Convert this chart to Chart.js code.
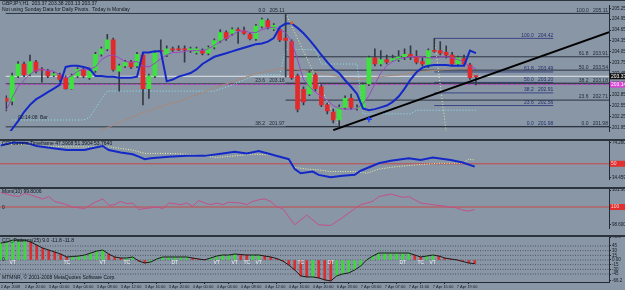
<!DOCTYPE html>
<html>
<head>
<meta charset="utf-8">
<title>GBPJPY H1</title>
<script src="https://cdn.jsdelivr.net/npm/chart.js@4.4.1/dist/chart.umd.min.js"></script>
<style>
  body { margin: 0; width: 625px; height: 290px; overflow: hidden; background: #8896a6; position: relative; }
  canvas { position: absolute; left: 0; }
  .sep { position: absolute; left: 0; width: 625px; background: #2b333d; }
</style>
</head>
<body>
<canvas id="pane1" width="625" height="139" style="top:0px"></canvas>
<canvas id="pane2" width="625" height="46" style="top:141px"></canvas>
<canvas id="pane3" width="625" height="47" style="top:189px"></canvas>
<canvas id="pane4" width="625" height="53" style="top:237px"></canvas>
<div class="sep" style="top:0px;height:1px"></div>
<div class="sep" style="top:139px;height:2px"></div>
<div class="sep" style="top:187px;height:2px"></div>
<div class="sep" style="top:235px;height:2px"></div>

<script>
// ---- time axis ----
var xLabelIdx = [0, 4, 8, 12, 16, 20, 24, 28, 32, 36, 40, 44, 48, 52, 56, 60, 64, 68, 72, 76];
var xLabels = ["2 Apr 2008", "2 Apr 20:00", "3 Apr 00:00", "3 Apr 04:00", "3 Apr 08:00", "3 Apr 12:00",
  "3 Apr 16:00", "3 Apr 20:00", "4 Apr 00:00", "4 Apr 04:00", "4 Apr 08:00", "4 Apr 12:00",
  "4 Apr 16:00", "4 Apr 20:00", "6 Apr 23:00", "7 Apr 03:00", "7 Apr 07:00", "7 Apr 11:00",
  "7 Apr 15:00", "7 Apr 19:00"];

// ---- GBPJPY H1 candles ----
var opens = [202.76, 202.68, 203.38, 203.71, 203.43, 203.76, 203.57, 203.51, 203.40, 203.41,
  203.33, 203.03, 203.38, 203.56, 203.33, 203.53, 203.98, 204.13, 204.38, 203.51,
  203.66, 203.76, 203.66, 203.96, 203.03, 203.38, 204.09, 203.96, 204.13, 204.13,
  204.13, 204.08, 204.03, 204.08, 204.01, 204.18, 204.36, 204.58, 204.56, 204.66,
  204.63, 204.53, 204.41, 204.76, 204.91, 204.68, 204.66, 204.43, 204.33, 203.38,
  203.01, 202.88, 203.41, 203.08, 202.58, 202.38, 202.16, 202.51, 202.76, 202.47,
  202.51, 203.16, 203.88, 203.71, 203.83, 203.81, 203.83, 203.91, 203.98, 203.91,
  203.78, 203.66, 204.09, 204.08, 204.03, 203.96, 203.71, 203.86, 203.68, 203.37];
var highs = [202.83, 203.46, 203.78, 203.76, 203.96, 203.81, 203.61, 203.56, 203.48, 203.46,
  203.38, 203.43, 203.61, 203.61, 203.53, 204.03, 204.18, 204.53, 204.43, 203.71,
  203.81, 203.81, 204.03, 204.01, 203.43, 204.06, 204.38, 204.21, 204.18, 204.21,
  204.21, 204.18, 204.18, 204.13, 204.21, 204.41, 204.66, 204.63, 204.71, 204.71,
  204.73, 204.58, 204.81, 204.98, 204.96, 204.83, 204.71, 205.11, 204.38, 203.43,
  203.08, 203.51, 203.46, 203.13, 202.63, 202.46, 202.58, 202.83, 202.88, 202.58,
  203.18, 203.93, 204.13, 204.08, 203.96, 203.96, 204.08, 204.13, 204.21, 204.08,
  203.88, 204.13, 204.42, 204.33, 204.21, 204.03, 203.93, 203.96, 203.73, 203.38];
var lows = [202.41, 202.58, 203.33, 203.36, 203.38, 203.46, 203.21, 203.33, 203.36, 203.23,
  203.01, 203.01, 203.33, 203.33, 203.28, 203.48, 203.93, 204.08, 203.51, 202.96,
  203.61, 203.58, 203.61, 202.58, 202.76, 203.33, 204.03, 203.91, 204.06, 204.08,
  203.76, 204.03, 203.98, 203.96, 203.96, 204.13, 204.31, 204.36, 204.51, 204.28,
  204.53, 204.38, 204.36, 204.71, 204.68, 204.63, 204.33, 203.35, 203.28, 202.38,
  202.58, 202.83, 202.96, 202.53, 202.33, 202.08, 201.98, 202.46, 202.46, 202.43,
  202.46, 203.11, 203.66, 203.66, 203.71, 203.78, 203.78, 203.83, 203.83, 203.71,
  203.66, 203.61, 204.03, 203.96, 203.88, 203.66, 203.66, 203.66, 203.28, 203.13];
var closes = [202.68, 203.38, 203.71, 203.41, 203.78, 203.51, 203.54, 203.38, 203.44, 203.28,
  203.03, 203.38, 203.56, 203.38, 203.51, 203.98, 204.13, 204.38, 203.56, 203.66,
  203.76, 203.63, 203.98, 203.03, 203.38, 204.01, 204.06, 204.13, 204.10, 204.10,
  204.10, 204.13, 204.13, 204.01, 204.16, 204.36, 204.58, 204.41, 204.66, 204.63,
  204.56, 204.41, 204.76, 204.93, 204.73, 204.78, 204.38, 204.36, 203.33, 202.46,
  202.66, 203.46, 203.03, 202.58, 202.41, 202.16, 202.51, 202.76, 202.51, 202.50,
  203.13, 203.88, 203.71, 203.83, 203.76, 203.86, 203.91, 203.98, 203.91, 203.76,
  203.71, 204.08, 204.06, 204.01, 203.96, 203.71, 203.88, 203.71, 203.33, 203.36];

// overlays on the price pane
var blueMa = [201.68, 201.91, 202.13, 202.38, 202.58, 202.73, 202.83, 202.93, 203.03, 203.13,
  203.63, 203.66, 203.66, 203.63, 203.58, 203.38, 203.38, 203.36, 203.36, 203.33,
  203.33, 203.33, 203.36, 204.03, 204.03, 204.06, 204.06, 203.23, 203.28, 203.36,
  203.41, 203.46, 203.56, 203.71, 203.81, 203.91, 203.96, 204.01, 204.06, 204.11,
  204.16, 204.21, 204.26, 204.28, 204.33, 204.43, 204.73, 204.83, 204.83, 204.71,
  204.56, 204.38, 204.18, 203.96, 203.76, 203.58, 203.46, 203.26, 203.08, 202.88,
  202.48, 202.43, 202.46, 202.51, 202.56, 202.66, 202.81, 203.03, 203.28, 203.48,
  203.61, 203.66, 203.68, 203.68, 203.68, 203.66, 203.66, 203.66, 204.08, 204.01];
var purpleMa = [202.43, 202.78, 203.08, 203.26, 203.43, 203.53, 203.56, 203.53, 203.51, 203.41,
  203.33, 203.38, 203.51, 203.56, 203.56, 203.63, 203.83, 203.93, 203.96, 203.88,
  203.78, 203.76, 203.78, 203.66, 203.63, 203.73, 203.86, 203.96, 204.03, 204.03,
  204.06, 204.08, 204.08, 204.08, 204.13, 204.23, 204.33, 204.43, 204.51, 204.61,
  204.63, 204.58, 204.58, 204.66, 204.71, 204.73, 204.66, 204.58, 204.33, 203.83,
  203.28, 203.08, 202.93, 202.81, 202.71, 202.56, 202.48, 202.46, 202.46, 202.48,
  202.61, 202.83, 203.16, 203.46, 203.66, 203.78, 203.86, 203.88, 203.91, 203.91,
  203.91, 203.88, 203.88, 203.91, 203.91, 203.88, 203.83, 203.76, 203.63, 203.58];
var brownIdx = [14, 16, 18, 20, 22, 24, 26, 28, 30, 32, 34, 36, 38, 40, 42, 44, 46,
  48, 50, 52, 54, 56, 58, 60, 62, 64, 66, 68, 70, 72, 74, 76, 78];
var brownMa = [201.76, 201.88, 202.01, 202.16, 202.31, 202.41, 202.53, 202.63, 202.73, 202.86,
  202.98, 203.11, 203.21, 203.33, 203.43, 203.51, 203.58, 203.58, 203.53, 203.48,
  203.43, 203.36, 203.31, 203.28, 203.33, 203.38, 203.41, 203.46, 203.51, 203.53,
  203.56, 203.58, 203.58];
var cyanIdx = [1, 13, 14, 15, 16, 17, 35, 38, 42, 46, 47, 52, 53, 59, 60, 68, 69, 79];
var cyanStop = [202.16, 202.16, 202.23, 202.48, 202.73, 202.96, 202.96, 203.13, 203.41, 203.41,
  204.11, 204.11, 203.71, 203.71, 202.33, 202.33, 202.43, 202.43];
var trendIdx = [55, 101.4];
var trendVal = [201.88, 204.59];
var diagAIdx = [47, 56];
var diagAVal = [205.11, 201.98];
var diagBIdx = [72, 74];
var diagBVal = [204.42, 201.83];
var markIdx = [48, 61];
var markVal = [204.85, 202.18];
var bidPrice = 203.37;
var pivotPrice = 203.14;

// fibonacci sets
var fibAEnd = 46.8;
var fibALevels = ["0.0", "23.6", "38.2"];
var fibAPrices = [205.11, 203.16, 201.97];
var fibBStart = 72, fibBEnd = 92;
var fibBLevels = ["100.0", "61.8", "50.0", "38.2", "23.6", "0.0"];
var fibBPrices = [204.42, 203.49, 203.20, 202.91, 202.56, 201.98];
var fibCStart = 47, fibCEnd = 101.2;
var fibCLevels = ["100.0", "61.8", "50.0", "38.2", "23.6", "0.0"];
var fibCPrices = [205.11, 203.91, 203.54, 203.18, 202.71, 201.98];
var priceTicks = [205.25, 204.95, 204.65, 204.35, 204.05, 203.75, 203.45, 203.15, 202.85, 202.55, 202.25, 201.95];

// pane 2
var p2BlueIdx = [0, 2, 4, 6, 9, 11, 14, 15, 17, 18, 20, 22, 23, 24, 25, 28, 31, 34, 37, 39,
  41, 43, 45, 48, 49, 50, 52, 53, 55, 57, 59, 60, 63, 65, 68, 70, 72, 75, 77, 79];
var p2Blue = [71.0, 74.3, 74.3, 70.5, 67.65, 65.75, 65.75, 67.65, 70.5, 65.75,
  62.9, 61.0, 58.15, 55.3, 56.25, 58.15, 59.1, 59.1, 61.95, 63.85,
  61.95, 64.8, 61.0, 55.3, 43.9, 39.15, 41.05, 37.25, 34.4, 36.3,
  37.25, 42.0, 50.55, 53.4, 56.25, 54.35, 57.2, 54.35, 51.5, 46.75];
var p2YellowIdx = [0, 3, 7, 11, 15, 18, 22, 24, 28, 31, 34, 36, 39, 42, 46, 48, 49, 51, 53, 55,
  59, 61, 63, 66, 69, 73, 77, 78, 79];
var p2Yellow = [72.4, 72.4, 70.5, 69.55, 69.55, 69.55, 65.75, 61.95, 61.95, 61.0,
  59.1, 57.2, 59.1, 61.0, 60.05, 53.4, 45.8, 43.9, 42.95, 41.05,
  41.05, 39.15, 43.9, 46.75, 48.65, 50.55, 50.55, 55.3, 54.35];
var p2Level = 50;
var p2Ticks = [74.2601, 34.4597];

// pane 3: Mom(10)
var momIdx = [0, 2, 3, 4, 5, 7, 8, 9, 11, 12, 14, 15, 16, 17, 18, 19, 20, 21, 22, 23,
  24, 26, 27, 28, 30, 31, 32, 33, 34, 35, 36, 37, 38, 40, 41, 42, 43, 44, 45, 46,
  47, 48, 49, 51, 53, 55, 56, 57, 59, 60, 62, 63, 65, 67, 68, 70, 72, 74, 76, 77, 78, 79];
var mom = [101.17, 100.91, 100.84, 101.10, 100.97, 100.65, 100.84, 100.45, 100.19, 100.00,
  99.87, 100.19, 100.45, 100.65, 100.13, 100.19, 100.45, 100.26, 100.32, 99.80,
  99.87, 100.00, 99.87, 100.32, 100.19, 100.32, 100.06, 100.52, 100.32, 100.19,
  100.32, 100.19, 100.39, 100.32, 100.19, 100.45, 100.58, 100.65, 100.45, 100.00,
  99.87, 99.22, 98.57, 99.35, 98.57, 98.51, 98.83, 99.16, 99.87, 100.19,
  100.45, 100.84, 101.04, 100.78, 100.84, 100.32, 100.19, 100.06, 99.93, 99.74, 99.67, 99.80];
var momLevel = 100;
var momTicks = [101.3614, 98.6002];

// pane 4: pattern histogram
var hist = [54.4, 57.6, 64, 64, 64, 57.6, 48, 38.4, 32, 25.6,
  19.2, 9.6, 11.2, 12.8, 16, 22.4, 28.8, 32, 19.2, 9.6,
  6.4, 6.4, 9.6, -3.2, -9.6, -6.4, 3.2, 9.6, 9.6, 9.6,
  9.6, 9.6, 6.4, 3.2, 0.5, 6.4, 12.8, 16, 16, 19.2,
  17.6, 16, 16, 16, 12.8, 9.6, 4.8, -3.2, -16, -32,
  -51.2, -54.4, -54.4, -57.6, -64, -67.2, -51.2, -44.8, -41.6, -32,
  -19.2, 0.5, 12.8, 22.4, 22.4, 22.4, 22.4, 22.4, 22.4, 16,
  9.6, 12.8, 16, 12.8, 6.4, 3.2, 0.5, -4.8, -9.6, -11.8];
var histLevels = [45, 30, 15, 0, -15, -30, -45];
var histTicks = [73.9, 45, 30, 15, 0, -15, -30, -45, -66.2];
var patIdx = [2, 11, 17, 21, 29, 36, 39, 41, 43, 50, 55, 67, 70, 72];
var patText = ["VT", "TC", "VT", "TC", "DT", "VT", "VT", "TC", "VT", "TC", "DT", "DT", "TC", "VT"];

// ------------------------------------------------------------
Chart.defaults.font.family = '"Liberation Sans", Arial, sans-serif';
Chart.defaults.font.size = 4.5;
Chart.defaults.color = '#141a22';
Chart.defaults.animation = false;
Chart.defaults.events = [];
Chart.defaults.plugins.legend.display = false;
Chart.defaults.plugins.tooltip.enabled = false;
Chart.defaults.elements.point.radius = 0;
Chart.defaults.elements.line.borderWidth = 1;

var X_MIN = -0.12, X_MAX = 101.38;
var AXIS_COL = '#232a33';
var UP = '#3ee23e', DOWN = '#e22a2a', WICK = '#343a44';
var FONT = '5px "Liberation Sans", Arial, sans-serif';

function pts(xs, ys) {
  return xs.map(function (x, k) { return { x: x, y: ys[k] }; });
}
var barIdx = opens.map(function (v, i) { return i; });

function xAxis(show) {
  return {
    type: 'linear', min: X_MIN, max: X_MAX, offset: false, display: show,
    afterFit: function (s) { s.height = 8; s.paddingLeft = 0; s.paddingRight = 0; },
    afterBuildTicks: function (s) { s.ticks = xLabelIdx.map(function (v) { return { value: v }; }); },
    grid: { drawOnChartArea: false, tickLength: 2, color: AXIS_COL },
    border: { color: AXIS_COL },
    ticks: {
      autoSkip: false, maxRotation: 0, minRotation: 0, align: 'start', padding: 0,
      font: { size: 4 },
      callback: function (v) { var k = xLabelIdx.indexOf(v); return k < 0 ? '' : xLabels[k]; }
    }
  };
}

function yAxis(min, max, tickVals, fmt) {
  return {
    position: 'right', min: min, max: max,
    afterFit: function (s) { s.width = 16; s.paddingTop = 0; s.paddingBottom = 0; },
    afterBuildTicks: function (s) { s.ticks = tickVals.map(function (v) { return { value: v }; }); },
    grid: { drawOnChartArea: false, tickLength: 2, color: AXIS_COL },
    border: { color: AXIS_COL },
    ticks: { autoSkip: false, padding: 1, callback: fmt }
  };
}

function hline(x0, x1, y, color, dash, order) {
  return {
    type: 'line', data: [{ x: x0, y: y }, { x: x1, y: y }],
    borderColor: color, borderWidth: 1, borderDash: dash || [], order: order || 8
  };
}

function label(ctx, txt, x, y, color, align) {
  ctx.save();
  ctx.font = FONT;
  ctx.fillStyle = color;
  ctx.textAlign = align || 'left';
  ctx.textBaseline = 'middle';
  ctx.fillText(txt, x, y);
  ctx.restore();
}

function axisBox(ctx, y, txt, bg, fg) {
  ctx.save();
  ctx.fillStyle = bg;
  ctx.fillRect(610, y - 3, 15, 6);
  ctx.restore();
  label(ctx, txt, 611, y, fg);
}

// ---------- pane 1: price ----------
var mainSets = [
  { type: 'line', showLine: false, data: pts(markIdx, markVal), order: 0,
    pointRadius: [2, 3], pointStyle: ['rect', 'cross'],
    pointBackgroundColor: ['#e0602a', '#2040ff'], pointBorderColor: ['#e0602a', '#2040ff'], pointBorderWidth: [0, 1.5] },
  { type: 'line', data: pts(trendIdx, trendVal), borderColor: '#000000', borderWidth: 2, order: 1 },
  { type: 'line', data: pts(barIdx, blueMa), borderColor: '#1428c8', borderWidth: 2, order: 1 },
  { type: 'line', data: pts(barIdx, purpleMa), borderColor: '#9a48c0', order: 2 },
  { type: 'bar', data: barIdx.map(function (i) { return { x: i, y: [opens[i], closes[i]] }; }),
    grouped: false, barThickness: 4, minBarLength: 1, order: 3,
    backgroundColor: barIdx.map(function (i) { return closes[i] >= opens[i] ? UP : DOWN; }) },
  { type: 'bar', data: barIdx.map(function (i) { return { x: i, y: [lows[i], highs[i]] }; }),
    grouped: false, barThickness: 1, backgroundColor: WICK, order: 4 },
  { type: 'line', data: pts(diagAIdx, diagAVal), borderColor: '#eef0a8', borderDash: [1, 2], order: 5 },
  { type: 'line', data: pts(diagBIdx, diagBVal), borderColor: '#cdf0a0', borderDash: [1, 2], order: 5 },
  { type: 'line', data: pts(brownIdx, brownMa), borderColor: '#a8887a', order: 5 },
  { type: 'line', data: pts(cyanIdx, cyanStop), borderColor: '#8ee8ee', borderDash: [1, 2], order: 5 },
  hline(X_MIN, X_MAX, bidPrice, '#dfe5ea', [], 6),
  hline(X_MIN, X_MAX, pivotPrice, '#d644d6', [3, 2], 6)
];
fibAPrices.forEach(function (p) { mainSets.push(hline(X_MIN, X_MAX, p, '#2c3440')); });
fibCPrices.forEach(function (p) { mainSets.push(hline(fibCStart, X_MAX, p, '#2c3440')); });
fibBPrices.forEach(function (p) { mainSets.push(hline(fibBStart, fibBEnd, p, '#3a4684')); });

var mainText = {
  id: 'mainText',
  afterDatasetsDraw: function (c) {
    var ctx = c.ctx, x = c.scales.x, y = c.scales.y;
    label(ctx, 'GBPJPY,H1  203.37 203.38 203.13 203.37', 2, 4, '#10151c');
    label(ctx, 'Not using Sunday Data for Daily Pivots.  Today is Monday', 2, 10, '#10151c');
    label(ctx, '00:14:08', 18, 118, '#1a2230');
    label(ctx, 'Bar', 40, 118, '#1a2230');
    fibALevels.forEach(function (l, k) {
      label(ctx, l + '   ' + fibAPrices[k].toFixed(2), x.getPixelForValue(fibAEnd), y.getPixelForValue(fibAPrices[k]) - 3, '#222a36', 'right');
    });
    fibBLevels.forEach(function (l, k) {
      label(ctx, l + '   ' + fibBPrices[k].toFixed(2), x.getPixelForValue(fibBEnd), y.getPixelForValue(fibBPrices[k]) - 3, '#26306a', 'right');
    });
    fibCLevels.forEach(function (l, k) {
      label(ctx, l + '   ' + fibCPrices[k].toFixed(2), x.getPixelForValue(fibCEnd), y.getPixelForValue(fibCPrices[k]) - 3, '#222a36', 'right');
    });
  },
  afterDraw: function (c) {
    var y = c.scales.y;
    axisBox(c.ctx, y.getPixelForValue(bidPrice), bidPrice.toFixed(2), '#101010', '#ffffff');
    axisBox(c.ctx, y.getPixelForValue(pivotPrice), pivotPrice.toFixed(2), '#d644d6', '#ffffff');
  }
};

new Chart(document.getElementById('pane1'), {
  type: 'bar',
  data: { datasets: mainSets },
  options: {
    responsive: false,
    layout: { padding: 0 },
    scales: {
      x: xAxis(false),
      y: yAxis(201.855, 205.33, priceTicks, function (v) { return v.toFixed(2); })
    }
  },
  plugins: [mainText]
});

// ---------- pane 2 ----------
new Chart(document.getElementById('pane2'), {
  type: 'line',
  data: {
    datasets: [
      { data: pts(p2BlueIdx, p2Blue), borderColor: '#1428c8', borderWidth: 2, order: 0 },
      { data: pts(p2YellowIdx, p2Yellow), borderColor: '#eef0a0', borderDash: [1, 1.5], order: 1 },
      hline(X_MIN, X_MAX, p2Level, '#c84848', [], 2)
    ]
  },
  options: {
    responsive: false,
    layout: { padding: 0 },
    scales: {
      x: xAxis(false),
      y: yAxis(32.5, 76.2, p2Ticks, function (v) { return v.toFixed(4); })
    }
  },
  plugins: [{
    id: 'p2Text',
    afterDraw: function (c) {
      label(c.ctx, 'CCI Current Timeframe 47.3908 51.3904 53.7640', 2, 3, '#10151c');
      axisBox(c.ctx, c.scales.y.getPixelForValue(p2Level), String(p2Level), '#e03030', '#ffd0d0');
    }
  }]
});

// ---------- pane 3 ----------
new Chart(document.getElementById('pane3'), {
  type: 'line',
  data: {
    datasets: [
      { data: pts(momIdx, mom), borderColor: '#c4508a', order: 0 },
      hline(X_MIN, X_MAX, momLevel, '#c84848', [], 1)
    ]
  },
  options: {
    responsive: false,
    layout: { padding: 0 },
    scales: {
      x: xAxis(false),
      y: yAxis(98.31, 101.45, momTicks, function (v) { return v.toFixed(4); })
    }
  },
  plugins: [{
    id: 'p3Text',
    afterDraw: function (c) {
      label(c.ctx, 'Mom(10) 99.8006', 2, 3, '#10151c');
      label(c.ctx, '0', 2, 19, '#10151c');
      axisBox(c.ctx, c.scales.y.getPixelForValue(momLevel), String(momLevel), '#e03030', '#ffd0d0');
    }
  }]
});

// ---------- pane 4 ----------
var p4Sets = [
  { type: 'line', data: pts(barIdx, hist), borderColor: '#1a1a1a', order: 0 },
  { type: 'bar', data: pts(barIdx, hist), grouped: false, barThickness: 2, order: 1,
    backgroundColor: barIdx.map(function (i) { return (i === 0 || hist[i] >= hist[i - 1]) ? '#3ed83e' : '#d83030'; }) }
];
histLevels.forEach(function (v) { p4Sets.push(hline(X_MIN, X_MAX, v, '#4c5664', [1, 1.5], 3)); });

new Chart(document.getElementById('pane4'), {
  type: 'bar',
  data: { datasets: p4Sets },
  options: {
    responsive: false,
    layout: { padding: 0 },
    scales: {
      x: xAxis(true),
      y: yAxis(-70.7, 73.9, histTicks, function (v) { return v === 0 ? '0.00' : String(v); })
    }
  },
  plugins: [{
    id: 'p4Text',
    afterDatasetsDraw: function (c) {
      var x = c.scales.x, y = c.scales.y;
      patIdx.forEach(function (i, k) {
        label(c.ctx, patText[k], x.getPixelForValue(i), y.getPixelForValue(-10), '#eef2f4', 'center');
      });
      label(c.ctx, 'CCI_Patterns(25) 9.0 -11.8 -11.8', 2, 4, '#10151c');
      label(c.ctx, '0', 2, y.getPixelForValue(0), '#10151c');
      label(c.ctx, 'MTMNR, \u00a9 2001-2008 MetaQuotes Software Corp.', 2, 41, '#10151c');
    }
  }]
});
</script>
</body>
</html>
